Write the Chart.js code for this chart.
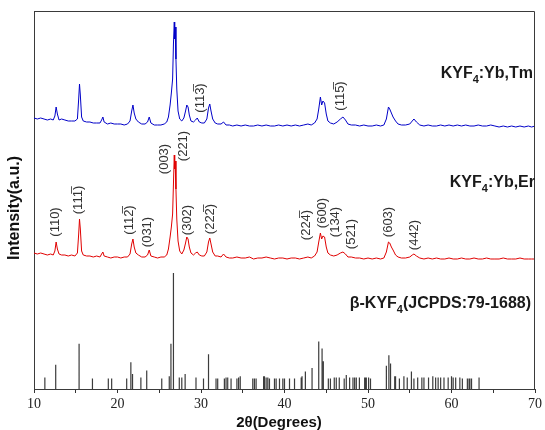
<!DOCTYPE html>
<html>
<head>
<meta charset="utf-8">
<script src="https://cdn.jsdelivr.net/npm/chart.js@4/dist/chart.umd.min.js"></script>
<style>
  body { margin: 0; background: #fff; }
</style>
</head>
<body>
<canvas id="xrd" width="545" height="430"></canvas>
<script>
// 2theta grid shared by the two measured patterns
const angles = [10.0,10.4,10.8,11.2,11.6,12.0,12.3,12.5,12.65,12.8,13.0,13.3,13.7,14.1,14.5,14.9,
  15.2,15.35,15.45,15.55,15.7,15.9,16.3,16.7,17.1,17.5,17.9,18.1,18.25,18.4,18.8,19.2,19.6,20.0,
  20.4,20.8,21.2,21.5,21.7,21.85,22.0,22.2,22.5,22.9,23.3,23.6,23.8,24.0,24.4,24.8,25.2,25.6,25.9,
  26.1,26.3,26.45,26.6,26.7,26.8,26.85,26.9,27.0,27.1,27.25,27.45,27.7,27.95,28.15,28.3,28.45,28.6,
  28.8,29.1,29.35,29.55,29.8,30.1,30.4,30.7,30.9,31.05,31.2,31.4,31.7,32.0,32.4,32.7,33.0,33.4,33.8,
  34.3,34.8,35.3,35.8,36.3,36.8,37.3,37.8,38.3,38.8,39.3,39.8,40.3,40.8,41.3,41.8,42.3,42.8,43.2,
  43.6,43.9,44.1,44.3,44.45,44.6,44.8,45.0,45.2,45.5,45.9,46.3,46.7,47.0,47.3,47.6,48.0,48.5,49.0,
  49.5,50.0,50.5,51.0,51.5,51.9,52.2,52.45,52.6,52.8,53.0,53.3,53.6,54.0,54.5,55.0,55.3,55.5,55.8,
  56.2,56.7,57.2,57.7,58.2,58.7,59.2,59.7,60.2,60.7,61.2,61.7,62.2,62.7,63.2,63.7,64.2,64.7,65.2,
  65.7,66.2,66.7,67.2,67.7,68.2,68.7,69.2,69.6,70.0];

// KYF4:Yb,Tm (offset upwards)
const tmValues = [271,270,271,270,269,270,269,273,282,275,269,270,269,268,268,268,
  270,290,305,294,272,268,267,267,266,266,266,269,272,267,265,266,265,265,
  265,264,265,268,278,284,276,270,267,265,265,267,272,266,264,264,264,265,267,
  272,284,296,310,345,367,350,362,330,300,278,270,268,271,278,284,282,274,
  268,267,269,271,267,266,266,270,281,285,278,270,266,265,265,267,264,264,263,
  264,263,264,263,263,264,263,264,263,263,264,263,264,263,264,263,264,265,264,
  266,270,280,292,284,288,286,275,268,266,265,267,270,272,269,265,264,264,263,
  264,263,263,264,263,264,270,282,280,276,272,268,265,264,264,265,268,270,267,
  264,263,264,263,263,264,263,264,263,264,263,264,263,263,264,263,263,264,263,
  262,263,262,263,262,263,262,263,262,263];

// KYF4:Yb,Er
const erValues = [136,135,136,135,134,135,134,138,147,140,135,134,134,133,134,133,
  136,155,170,160,138,134,133,133,132,133,132,135,137,133,132,131,132,132,
  131,132,132,135,145,150,142,136,134,132,132,134,139,133,132,131,132,132,134,
  140,152,162,175,205,234,220,228,200,170,148,138,135,139,146,152,150,142,
  136,134,136,137,134,133,133,137,147,151,145,137,133,133,132,135,132,131,131,
  132,131,131,132,130,131,131,132,131,130,131,131,130,131,131,130,131,132,131,
  133,137,147,156,150,153,152,142,136,134,133,134,136,137,135,132,132,131,131,
  130,131,130,131,130,131,137,147,146,142,139,134,132,131,131,132,134,135,133,
  131,130,131,130,131,130,130,131,130,130,131,130,130,131,130,130,131,130,130,
  130,131,130,130,130,131,130,130,130,130];

// beta-KYF4 reference (JCPDS 79-1688), relative intensity
const refPos = [11.3,12.6,15.4,17.0,18.9,19.3,21.1,21.6,21.8,22.8,23.5,25.3,26.2,26.4,26.7,27.4,27.7,
  28.1,29.4,30.3,30.9,31.8,32.0,32.8,33.0,33.2,33.6,34.3,34.5,34.7,36.2,36.4,36.6,37.5,37.6,37.8,
  38.0,38.2,38.8,39.0,39.4,39.8,40.0,40.6,41.2,42.0,42.1,42.5,43.3,44.1,44.5,44.65,45.25,45.5,45.96,
  46.2,46.56,47.15,47.4,47.8,48.2,48.4,48.6,48.97,49.6,49.7,49.8,50.07,50.3,52.2,52.5,52.7,53.2,
  53.3,53.76,54.3,54.7,55.2,55.5,55.95,56.45,56.7,57.25,57.76,58.1,58.4,58.7,59.1,59.6,60.0,60.2,
  60.5,61.0,61.3,61.9,62.1,62.2,62.4,63.3];
const refInt = [10,21,39,9,9,9,9,23,13,10,16,9,11,39,100,10,10,
  13,10,9,30,9,9,9,10,10,9,9,10,11,9,9,9,11,11,10,
  10,9,9,9,9,9,9,9,9,10,11,15,18,41,35,24,9,9,10,
  10,10,9,12,10,10,10,10,10,10,10,10,10,9,20,29,22,11,
  11,9,11,10,15,9,10,10,10,10,11,10,10,10,10,10,11,10,
  10,10,9,9,9,9,9,10];
const refScale = 1.16;

// Miller indices: [text, 2theta, height]
const hklLabels = [
  ['(110)', 12.6, 167], ['(11' + '1\u0305' + ')', 15.3, 189], ['(11' + '2\u0305' + ')', 21.4, 169],
  ['(031)', 23.6, 157], ['(003)', 25.6, 230], ['(221)', 27.9, 243], ['(302)', 28.4, 169],
  ['(22' + '2\u0305' + ')', 31.1, 170], ['(22' + '4\u0305' + ')', 42.6, 164], ['(600)', 44.6, 176],
  ['(134)', 46.1, 167], ['(521)', 48.0, 155], ['(603)', 52.4, 167], ['(442)', 55.5, 154],
  ['(11' + '3\u0305' + ')', 29.9, 291], ['(11' + '5\u0305' + ')', 46.7, 293]
];

const sampleNames = [
  [['KYF', ''], ['4', 'sub'], [':Yb,Tm', '']],
  [['KYF', ''], ['4', 'sub'], [':Yb,Er', '']],
  [['\u03b2-KYF', ''], ['4', 'sub'], ['(JCPDS:79-1688)', '']]
];
const sampleY = [316, 207, 86];
const sampleRight = [533, 535, 531];

function curve(vals) {
  return angles.map((a, i) => ({x: a, y: vals[i]}));
}

const sticks = [];
refPos.forEach((p, i) => {
  sticks.push({x: p, y: 0}, {x: p, y: refInt[i] * refScale}, {x: p, y: null});
});

const textPlugin = {
  id: 'texts',
  afterDraw(chart) {
    const {ctx, chartArea: a, scales: {x, y}} = chart;
    ctx.save();
    ctx.strokeStyle = '#3a3a3a';
    ctx.lineWidth = 1;
    ctx.beginPath();
    ctx.moveTo(a.left, a.top + 0.5);
    ctx.lineTo(a.right - 0.5, a.top + 0.5);
    ctx.lineTo(a.right - 0.5, a.bottom);
    ctx.stroke();

    // hkl labels, rotated
    ctx.font = '13px "Liberation Sans"';
    ctx.fillStyle = '#333';
    ctx.textAlign = 'center';
    ctx.textBaseline = 'middle';
    hklLabels.forEach(l => {
      ctx.save();
      ctx.translate(x.getPixelForValue(l[1]), y.getPixelForValue(l[2]));
      ctx.rotate(-Math.PI / 2);
      ctx.fillText(l[0], 0, 0);
      ctx.restore();
    });

    // sample names, right aligned
    ctx.fillStyle = '#1a1a1a';
    ctx.textAlign = 'left';
    ctx.textBaseline = 'alphabetic';
    const big = 'bold 16px "Liberation Sans"', small = 'bold 11px "Liberation Sans"';
    sampleNames.forEach((parts, k) => {
      let w = 0;
      parts.forEach(p => {
        ctx.font = p[1] === 'sub' ? small : big;
        w += ctx.measureText(p[0]).width;
      });
      let px = sampleRight[k] - w;
      const py = y.getPixelForValue(sampleY[k]) + 5;
      parts.forEach(p => {
        ctx.font = p[1] === 'sub' ? small : big;
        ctx.fillText(p[0], px, p[1] === 'sub' ? py + 5 : py);
        px += ctx.measureText(p[0]).width;
      });
    });

    // axis titles
    ctx.fillStyle = '#111';
    ctx.font = 'bold 15px "Liberation Sans"';
    ctx.textAlign = 'center';
    ctx.textBaseline = 'middle';
    ctx.fillText('2\u03b8(Degrees)', 279, 423);
    ctx.save();
    ctx.translate(15, 208);
    ctx.rotate(-Math.PI / 2);
    ctx.font = 'bold 16px "Liberation Sans"';
    ctx.fillText('Intensity(a.u.)', 0, 0);
    ctx.restore();
    ctx.restore();
  }
};

new Chart(document.getElementById('xrd'), {
  type: 'line',
  data: {
    datasets: [
      {data: sticks, borderColor: '#3c3c3c', borderWidth: 1.2, pointRadius: 0, spanGaps: false},
      {data: curve(erValues), borderColor: '#e00000', borderWidth: 1, pointRadius: 0},
      {data: curve(tmValues), borderColor: '#0000c8', borderWidth: 1, pointRadius: 0}
    ]
  },
  options: {
    responsive: false,
    animation: false,
    layout: {padding: {top: 11, right: 6, left: 0, bottom: 0}},
    plugins: {legend: {display: false}, tooltip: {enabled: false}},
    scales: {
      x: {
        type: 'linear', min: 10, max: 70,
        grid: {display: true, drawOnChartArea: false, tickLength: 4, tickColor: '#333'},
        border: {display: true, color: '#3a3a3a', width: 1},
        ticks: {
          stepSize: 5, padding: 3, color: '#222',
          font: {family: '"Liberation Serif"', size: 14},
          callback: v => (v % 10 === 0 ? v : '')
        },
        afterFit: s => { s.height = 41; }
      },
      y: {
        min: 0, max: 378,
        grid: {display: false},
        border: {display: true, color: '#3a3a3a', width: 1},
        ticks: {display: false},
        afterFit: s => { s.width = 34; }
      }
    }
  },
  plugins: [textPlugin]
});
</script>
</body>
</html>
